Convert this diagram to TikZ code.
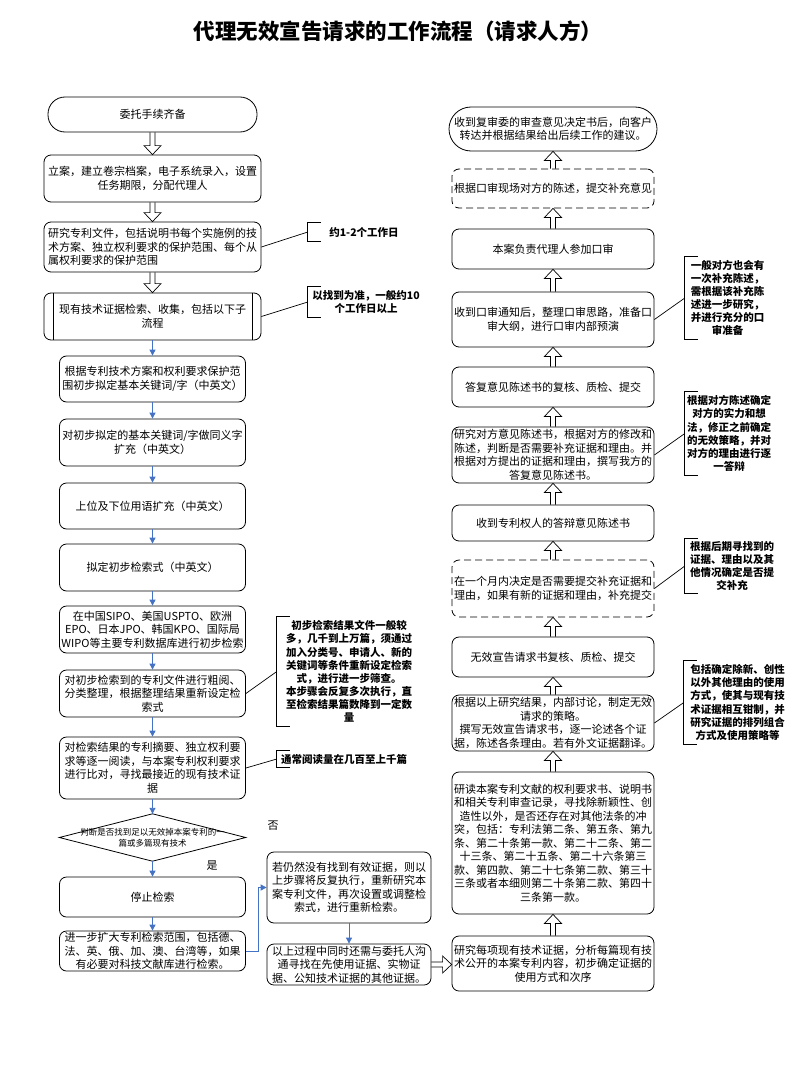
\documentclass[tikz,border=0pt]{standalone}
\usepackage{fontspec}
\setmainfont{Noto Sans CJK SC}
\usetikzlibrary{arrows.meta,calc}
\definecolor{arrblue}{RGB}{68,114,196}
\tikzset{
  basebox/.style={draw, line width=0.8pt, align=center, inner sep=0pt, font=\fontsize{11}{13.5}\selectfont},
  box/.style={basebox, rounded corners=7pt},
  dbox/.style={box, dash pattern=on 7pt off 4pt},
  note/.style={align=center, inner sep=0pt, font=\fontsize{10.5}{13.1}\selectfont\bfseries},
  lbl/.style={inner sep=0pt, font=\fontsize{11}{13}\selectfont},
  barrow/.style={draw=arrblue, line width=0.9pt, -{Triangle[length=6pt,width=6pt]}},
  hollow/.style={draw, line width=0.7pt, line join=miter},
  link/.style={draw, line width=0.7pt},
}
\newcommand\harrdown[2]{\draw[hollow] let \p1=(#1), \p2=(#2) in
  (\x1-2.5pt,\y1) -- (\x1-2.5pt,\y2+9pt) -- (\x1-8.5pt,\y2+9pt) -- (\x1,\y2)
  -- (\x1+8.5pt,\y2+9pt) -- (\x1+2.5pt,\y2+9pt) -- (\x1+2.5pt,\y1);}
\newcommand\harrup[2]{\draw[hollow] let \p1=(#1), \p2=(#2) in
  (\x1-2.5pt,\y1) -- (\x1-2.5pt,\y2-9pt) -- (\x1-8.5pt,\y2-9pt) -- (\x1,\y2)
  -- (\x1+8.5pt,\y2-9pt) -- (\x1+2.5pt,\y2-9pt) -- (\x1+2.5pt,\y1);}
\newcommand\harrright[2]{\draw[hollow] let \p1=(#1), \p2=(#2) in
  (\x1,\y1+2.5pt) -- (\x2-9pt,\y1+2.5pt) -- (\x2-9pt,\y1+8.5pt) -- (\x2,\y1)
  -- (\x2-9pt,\y1-8.5pt) -- (\x2-9pt,\y1-2.5pt) -- (\x1,\y1-2.5pt);}
\newcommand\bracketL[1]{\draw[link] ([xshift=13pt]#1.north west) -- (#1.north west) -- (#1.south west) -- ([xshift=13pt]#1.south west);}
\begin{document}
\begin{tikzpicture}[x=1pt,y=-1pt]
\useasboundingbox (0,0) rectangle (803,1070);
\fill[white] (0,0) rectangle (803,1070);

\node[font=\fontsize{21.5}{25}\selectfont\bfseries, inner sep=0pt] (title) at (398,31) {代理无效宣告请求的工作流程（请求人方）};

% ---------- left column ----------
\node[basebox, rounded corners=17pt, minimum width=209pt, minimum height=35pt] (b1) at (152.5,114.5) {委托手续齐备};
\node[box, minimum width=217pt, minimum height=47pt] (b2) at (152.5,178.5) {立案，建立卷宗档案，电子系统录入，设置\\任务期限，分配代理人};
\node[box, align=left, minimum width=217pt, minimum height=50pt] (b3) at (152.5,247) {研究专利文件，包括说明书每个实施例的技\\术方案、独立权利要求的保护范围、每个从\\属权利要求的保护范围};
\node[box, minimum width=217pt, minimum height=47pt] (b4) at (152.5,316.5) {现有技术证据检索、收集，包括以下子\\流程};
\draw[line width=0.8pt] ([xshift=10pt]b4.north west) -- ([xshift=10pt]b4.south west);
\draw[line width=0.8pt] ([xshift=-9pt]b4.north east) -- ([xshift=-9pt]b4.south east);

\node[box, minimum width=186pt, minimum height=46pt] (b5) at (152.5,379) {根据专利技术方案和权利要求保护范\\围初步拟定基本关键词/字（中英文）};
\node[box, minimum width=186pt, minimum height=47pt] (b6) at (152.5,442.5) {对初步拟定的基本关键词/字做同义字\\扩充（中英文）};
\node[box, minimum width=186pt, minimum height=46pt] (b7) at (152.5,506) {上位及下位用语扩充（中英文）};
\node[box, minimum width=186pt, minimum height=47pt] (b8) at (152.5,567.5) {拟定初步检索式（中英文）};
\node[box, minimum width=186pt, minimum height=47pt] (b9) at (152.5,629.5) {在中国SIPO、美国USPTO、欧洲\\EPO、日本JPO、韩国KPO、国际局\\WIPO等主要专利数据库进行初步检索};
\node[box, minimum width=186pt, minimum height=47pt] (b10) at (152.5,693.5) {对初步检索到的专利文件进行粗阅、\\分类整理，根据整理结果重新设定检\\索式};
\node[box, minimum width=186pt, minimum height=62pt] (b11) at (152.5,768) {对检索结果的专利摘要、独立权利要\\求等逐一阅读，与本案专利权利要求\\进行比对，寻找最接近的现有技术证\\据};
\node[inner sep=0pt, align=center, minimum width=186pt, minimum height=47pt, font=\fontsize{8.5}{11}\selectfont] (dia) at (152.5,837.5) {判断是否找到足以无效掉本案专利的一\\篇或多篇现有技术};
\draw[line width=0.8pt] (dia.north) -- (dia.east) -- (dia.south) -- (dia.west) -- cycle;
\node[box, minimum width=186pt, minimum height=40pt] (b12) at (152.5,897) {停止检索};
\node[box, minimum width=186pt, minimum height=40pt] (b13) at (152.5,951) {进一步扩大专利检索范围，包括德、\\法、英、俄、加、澳、台湾等，如果\\有必要对科技文献库进行检索。};
\node[box, minimum width=164pt, minimum height=71pt] (b14) at (349,887.5) {若仍然没有找到有效证据，则以\\上步骤将反复执行，重新研究本\\案专利文件，再次设置或调整检\\索式，进行重新检索。};
\node[box, minimum width=164pt, minimum height=41pt] (b15) at (349,964.5) {以上过程中同时还需与委托人沟\\通寻找在先使用证据、实物证\\据、公知技术证据的其他证据。};

\node[lbl] (no) at (273,826) {否};
\node[lbl] (yes) at (212,866) {是};

% left notes
\node[note, minimum width=112pt, minimum height=18pt] (n1) at (364,232) {约1-2个工作日};
\node[note, minimum width=116pt, minimum height=30pt] (n2) at (366,302) {以找到为准，一般约10\\个工作日以上};
\node[note, minimum width=144pt, minimum height=109pt] (n3) at (349,671.5) {初步检索结果文件一般较\\多，几千到上万篇，须通过\\加入分类号、申请人、新的\\关键词等条件重新设定检索\\式，进行进一步筛查。\\本步骤会反复多次执行，直\\至检索结果篇数降到一定数\\量};
\node[note, minimum width=134pt, minimum height=16pt] (n4) at (344,759) {通常阅读量在几百至上千篇};
\bracketL{n1}\bracketL{n2}\bracketL{n3}\bracketL{n4}
\draw[link] (b3.east) -- (n1.west);
\draw[link] (b4.east) -- (n2.west);
\draw[link] (b10.east) -- (n3.west);
\draw[link] (b11.east) -- (n4.west);

% left arrows
\harrdown{b1.south}{b2.north}
\harrdown{b2.south}{b3.north}
\harrdown{b3.south}{b4.north}
\draw[barrow] (b4.south) -- (b5.north);
\draw[barrow] (b5.south) -- (b6.north);
\draw[barrow] (b6.south) -- (b7.north);
\draw[barrow] (b7.south) -- (b8.north);
\draw[barrow] (b8.south) -- (b9.north);
\draw[barrow] (b9.south) -- (b10.north);
\draw[barrow] (b10.south) -- (b11.north);
\draw[barrow] (b11.south) -- (dia.north);
\draw[barrow] (dia.south) -- (b12.north);
\draw[barrow] (b12.south) -- (b13.north);
\draw[barrow] (b13.east) -- ++(13pt,0) |- (b14.west);
\draw[barrow] (b14.south) -- (b15.north);

% ---------- right column ----------
\node[basebox, rounded corners=22pt, minimum width=208pt, minimum height=44pt] (r1) at (553,129) {收到复审委的审查意见决定书后，向客户\\转达并根据结果给出后续工作的建议。};
\node[dbox, minimum width=202pt, minimum height=39pt] (r2) at (553,188.5) {根据口审现场对方的陈述，提交补充意见};
\node[box, minimum width=202pt, minimum height=40pt] (r3) at (553,249) {本案负责代理人参加口审};
\node[box, minimum width=202pt, minimum height=55pt] (r4) at (553,319.5) {收到口审通知后，整理口审思路，准备口\\审大纲，进行口审内部预演};
\node[box, minimum width=202pt, minimum height=40pt] (r5) at (553,387) {答复意见陈述书的复核、质检、提交};
\node[box, minimum width=202pt, minimum height=56pt] (r6) at (553,455) {研究对方意见陈述书，根据对方的修改和\\陈述，判断是否需要补充证据和理由。并\\根据对方提出的证据和理由，撰写我方的\\答复意见陈述书。};
\node[box, minimum width=202pt, minimum height=36pt] (r7) at (553,523) {收到专利权人的答辩意见陈述书};
\node[dbox, minimum width=202pt, minimum height=57pt] (r8) at (553,588.5) {在一个月内决定是否需要提交补充证据和\\理由，如果有新的证据和理由，补充提交};
\node[box, minimum width=202pt, minimum height=40pt] (r9) at (553,657) {无效宣告请求书复核、质检、提交};
\node[box, minimum width=202pt, minimum height=56pt] (r10) at (553,723) {根据以上研究结果，内部讨论，制定无效\\请求的策略。\\撰写无效宣告请求书，逐一论述各个证\\据，陈述各条理由。若有外文证据翻译。};
\node[box, minimum width=202pt, minimum height=142pt] (r11) at (553,843) {研读本案专利文献的权利要求书、说明书\\和相关专利审查记录，寻找除新颖性、创\\造性以外，是否还存在对其他法条的冲\\突，包括：专利法第二条、第五条、第九\\条、第二十条第一款、第二十二条、第二\\十三条、第二十五条、第二十六条第三\\款、第四款、第二十七条第二款、第三十\\三条或者本细则第二十条第二款、第四十\\三条第一款。};
\node[box, minimum width=202pt, minimum height=55pt] (r12) at (553,963.5) {研究每项现有技术证据，分析每篇现有技\\术公开的本案专利内容，初步确定证据的\\使用方式和次序};

% right notes
\node[note, minimum width=85pt, minimum height=82pt] (n5) at (727.5,298) {一般对方也会有\\一次补充陈述，\\需根据该补充陈\\述进一步研究，\\并进行充分的口\\审准备};
\node[note, minimum width=88pt, minimum height=83pt] (n6) at (729,433.5) {根据对方陈述确定\\对方的实力和想\\法，修正之前确定\\的无效策略，并对\\对方的理由进行逐\\一答辩};
\node[note, minimum width=94pt, minimum height=54pt] (n7) at (732,566) {根据后期寻找到的\\证据、理由以及其\\他情况确定是否提\\交补充};
\node[note, minimum width=107pt, minimum height=83pt] (n8) at (737.5,702.5) {包括确定除新、创性\\以外其他理由的使用\\方式，使其与现有技\\术证据相互钳制，并\\研究证据的排列组合\\方式及使用策略等};
\bracketL{n5}\bracketL{n6}\bracketL{n7}\bracketL{n8}
\draw[link] (r4.east) -- (n5.west);
\draw[link] (r6.east) -- (n6.west);
\draw[link] (r8.east) -- (n7.west);
\draw[link] (r10.east) -- (n8.west);

% right arrows
\harrright{b15.east}{b15.east -| r12.west}
\harrup{r12.north}{r11.south}
\harrup{r11.north}{r10.south}
\harrup{r10.north}{r9.south}
\harrup{r9.north}{r8.south}
\harrup{r8.north}{r7.south}
\harrup{r7.north}{r6.south}
\harrup{r6.north}{r5.south}
\harrup{r5.north}{r4.south}
\harrup{r4.north}{r3.south}
\harrup{r3.north}{r2.south}
\harrup{r2.north}{r1.south}
\end{tikzpicture}
\end{document}
